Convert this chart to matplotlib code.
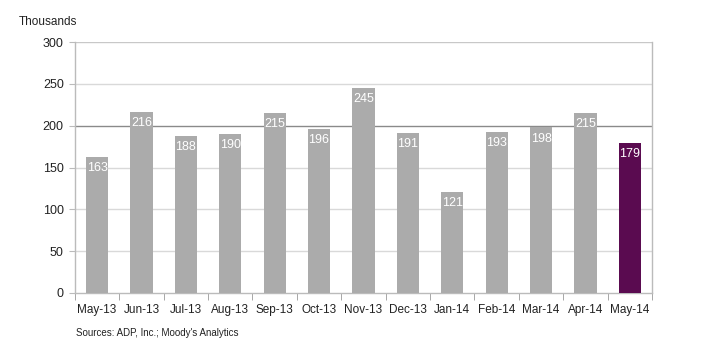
import matplotlib
matplotlib.use("Agg")
import matplotlib.pyplot as plt
import numpy as np

plt.rcParams['font.family'] = ['Liberation Sans', 'DejaVu Sans']

months = ["May-13", "Jun-13", "Jul-13", "Aug-13", "Sep-13", "Oct-13", "Nov-13",
          "Dec-13", "Jan-14", "Feb-14", "Mar-14", "Apr-14", "May-14"]
values = [163, 216, 188, 190, 215, 196, 245, 191, 121, 193, 198, 215, 179]
yticks = [0, 50, 100, 150, 200, 250, 300]

gray = "#ababab"
purple = "#5a0b50"
colors = [gray] * (len(values) - 1) + [purple]

fig = plt.figure(figsize=(7.2, 3.63), dpi=100)
ax = fig.add_axes([0.104, 0.193, 0.8016, 0.691])

x = np.arange(len(months))
bars = ax.bar(x, values, width=0.5, color=colors, edgecolor='none', zorder=3)

ax.set_xlim(-0.5, len(months) - 0.5)
ax.set_ylim(0, 300)
ax.set_yticks(yticks)
ax.set_yticklabels([str(t) for t in yticks], fontsize=9, color="#222222")

for t in yticks[1:]:
    if t == 200:
        ax.axhline(t, color="#8a8a8a", lw=1.0, zorder=2)
    elif t == 300:
        ax.axhline(t, color="#c8c8c8", lw=1.0, zorder=1)
    else:
        ax.axhline(t, color="#d9d9d9", lw=1.0, zorder=1)

ax.set_xticks(x)
ax.set_xticklabels(months, fontsize=8.5, color="#222222")
ax.tick_params(axis='x', length=0, pad=8)
ax.set_xticks(np.arange(-0.5, len(months), 1.0), minor=True)
ax.tick_params(axis='x', which='minor', length=5, color="#999999", direction='out')
ax.tick_params(axis='y', length=4, color="#bbbbbb", direction='out', pad=4)

for s in ['left', 'right', 'bottom']:
    ax.spines[s].set_color("#bbbbbb")
    ax.spines[s].set_linewidth(1.0)
ax.spines['top'].set_visible(False)

for xi, v in zip(x, values):
    ax.annotate(str(v), (xi, v), xytext=(0, -8), textcoords='offset points',
                ha='center', va='center', color='white', fontsize=9, zorder=5)

fig.text(0.026, 0.94, "Thousands", fontsize=8.5, color="#222222", ha='left', va='center')
fig.text(0.105, 0.082, "Sources: ADP, Inc.; Moody's Analytics", fontsize=7, color="#222222",
         ha='left', va='center')

fig.savefig("out.png", dpi=100)
